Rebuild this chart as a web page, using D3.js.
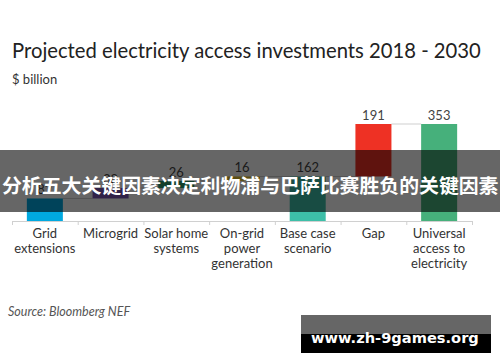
<!DOCTYPE html>
<html>
<head>
<meta charset="utf-8">
<script src="https://cdn.jsdelivr.net/npm/d3@7"></script>
<style>
html,body{margin:0;padding:0;background:#fff;}
svg{display:block;}
</style>
</head>
<body>
<svg id="chart" width="500" height="362"></svg>
<script>
// ---- data ----
const categories = ["Grid extensions","Microgrid","Solar home systems","On-grid power generation","Base case scenario","Gap","Universal access to electricity"];
const categoryLines = [["Grid","extensions"],["Microgrid"],["Solar home","systems"],["On-grid","power","generation"],["Base case","scenario"],["Gap"],["Universal","access to","electricity"]];
const values = [82, 38, 26, 16, 162, 191, 353];
const barType = ["step","step","step","step","total","step","total"];
const colors = ["#00a9e0","#7a55b3","#2f9e6f","#e2c12e","#3dbfa8","#ee3124","#46b07b"];
const title = "Projected electricity access investments 2018 - 2030";
const unitLabel = "$ billion";
const source = "Source: Bloomberg NEF";
const bannerText = "分析五大关键因素决定利物浦与巴萨比赛胜负的关键因素";
const watermark = "www.zh-9games.org";

const svg = d3.select("#chart");
const font = "Lato, 'Open Sans', sans-serif";

// compute waterfall extents
let running = 0;
const bars = categories.map((c,i)=>{
  let y0, y1;
  if (barType[i]==="total"){ y0 = 0; y1 = values[i]; running = values[i]; }
  else { y0 = running; y1 = running + values[i]; running = y1; }
  return {cat:c, lines:categoryLines[i], value:values[i], y0, y1, color:colors[i]};
});

const x = d3.scaleBand().domain(categories).range([12,472]).paddingInner(0.452).paddingOuter(0.226);
const y = d3.scaleLinear().domain([0,353]).range([221,124]);

function fitText(sel, width){
  const n = sel.node();
  const fs = parseFloat(sel.attr("font-size"));
  const w = n.getComputedTextLength();
  sel.attr("font-size", fs*width/w);
}

// title
const t = svg.append("text").attr("x",12).attr("y",58).attr("font-family",font)
  .attr("font-size",20).attr("fill","#222").text(title);
fitText(t, 469);
svg.append("text").attr("x",12).attr("y",84).attr("font-family",font)
  .attr("font-size",13).attr("fill","#333").text(unitLabel);

// connectors
for(let i=0;i<bars.length-1;i++){
  const yy = y(bars[i].y1);
  svg.append("line")
    .attr("x1", x(bars[i].cat)+x.bandwidth())
    .attr("x2", x(bars[i+1].cat))
    .attr("y1", yy).attr("y2", yy)
    .attr("stroke","#cfcfcf").attr("stroke-width",1);
}

// bars
svg.selectAll("rect.bar").data(bars).enter().append("rect")
  .attr("class","bar")
  .attr("x", d=>x(d.cat))
  .attr("width", x.bandwidth())
  .attr("y", d=>y(d.y1))
  .attr("height", d=>y(d.y0)-y(d.y1))
  .attr("fill", d=>d.color);

// value labels
svg.selectAll("text.val").data(bars).enter().append("text")
  .attr("class","val")
  .attr("x", d=>x(d.cat)+x.bandwidth()/2)
  .attr("y", d=>y(d.y1)-4)
  .attr("text-anchor","middle")
  .attr("font-family",font).attr("font-size",13).attr("fill","#444")
  .text(d=>d.value);

// axis with ticks at band boundaries
const xb = d3.scaleLinear().domain([0,categories.length]).range([12,472]);
const axis = svg.append("g").attr("transform","translate(0,221)")
  .call(d3.axisBottom(xb).tickValues(d3.range(categories.length+1)).tickFormat("").tickSize(4).tickSizeOuter(0));
axis.selectAll("path,line").attr("stroke","#d0d0d0");

// category labels
const cl = svg.selectAll("text.cat").data(bars).enter().append("text")
  .attr("class","cat")
  .attr("text-anchor","middle")
  .attr("font-family",font).attr("font-size",13).attr("fill","#333");
cl.selectAll("tspan").data(d=>d.lines.map(l=>({l, cx:x(d.cat)+x.bandwidth()/2}))).enter().append("tspan")
  .attr("x", d=>d.cx)
  .attr("y", (d,i)=>238+i*15)
  .text(d=>d.l);

// source
svg.append("text").attr("x",8).attr("y",316).attr("font-family",font)
  .attr("font-size",12.5).attr("font-style","italic").attr("fill","#555").text(source);

// banner overlay
svg.append("rect").attr("x",0).attr("y",150).attr("width",500).attr("height",62)
  .attr("fill","rgba(0,0,0,0.6)");
const bt = svg.append("text").attr("x",2).attr("y",184)
  .attr("dominant-baseline","central")
  .attr("font-family","'Noto Sans CJK SC', sans-serif").attr("font-weight","bold")
  .attr("font-size",20).attr("fill","#fff").text(bannerText);
fitText(bt, 497);

// watermark
svg.append("rect").attr("x",301).attr("y",315).attr("width",190).attr("height",19).attr("fill","#666");
svg.append("rect").attr("x",301).attr("y",334).attr("width",190).attr("height",19).attr("fill","#000");
const wm = svg.append("text").attr("x",311).attr("y",343)
  .attr("font-family","'DejaVu Sans', sans-serif").attr("font-weight","bold")
  .attr("font-size",16).attr("fill","#fff").text(watermark);
fitText(wm, 168);
</script>
</body>
</html>
